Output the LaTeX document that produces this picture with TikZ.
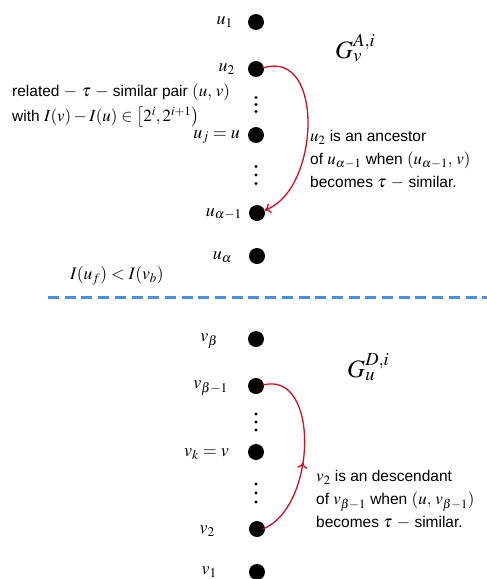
\documentclass[tikz,border=0pt]{standalone}
\usepackage{mathptmx}
\usepackage[no-math]{fontspec}
\setmainfont{Liberation Sans}
\usetikzlibrary{arrows.meta,decorations.markings}
\definecolor{arcred}{RGB}{208,16,32}
\definecolor{dashblue}{RGB}{74,144,226}
\newcommand\mth[1]{{\fontsize{17}{23}\selectfont$#1$}}
\begin{document}
\begin{tikzpicture}[x=1pt,y=-1pt,
  vert/.style={circle,fill=black,minimum size=16pt,inner sep=0pt},
  dotty/.style={circle,fill=black,minimum size=3.2pt,inner sep=0pt},
  lab/.style={anchor=east,inner sep=0pt,font=\fontsize{18}{20}\selectfont},
  gname/.style={anchor=west,inner sep=0pt,font=\fontsize{25}{30}\selectfont},
  note/.style={anchor=west,align=left,inner sep=0pt,font=\fontsize{15.5}{23}\selectfont},
  arc/.style={draw=arcred,line width=1.3pt}]
\useasboundingbox (0,0) rectangle (487,579);
% top group
\node[vert] (u1) at (256,22) {};
\node[vert] (u2) at (256,69) {};
\node[vert] (uj) at (256,135) {};
\node[vert] (ua1) at (257,213) {};
\node[vert] (ua) at (257,256) {};
\node[lab] (lu1) at (233,22) {$u_1$};
\node[lab] (lu2) at (235,69) {$u_2$};
\node[lab] (luj) at (240,137) {$u_j = u$};
\node[lab] (lua1) at (242,214) {$u_{\alpha-1}$};
\node[lab] (lua) at (232,257) {$u_\alpha$};
\foreach \y [count=\i] in {97.5,104.5,111.5} \node[dotty] (da\i) at (256,\y) {};
\foreach \y [count=\i] in {166.5,175,183.5} \node[dotty] (db\i) at (256,\y) {};
\node[gname] (GA) at (335,48) {$G_v^{A,i}$};
\node[note] (lnote1) at (12,92) {related \mth{-\ \tau\ -} similar pair \mth{(u,\, v)}};
\node[note] (lnote2) at (12,117) {with \mth{I(v)-I(u)\in\bigl[2^i,2^{i+1}\bigr)}};
\node[note] (rnote) at (310,160) {\mth{u_2} is an ancestor\\of \mth{u_{\alpha-1}} when \mth{(u_{\alpha-1},\, v)}\\becomes \mth{\tau\ -} similar.};
\draw[arc,-{To[length=6pt,width=10pt]}] (263,68) .. controls (325,48) and (320,190) .. (ua1);
\node[note,font=\fontsize{17.5}{20}\selectfont] (ineq) at (70,276) {$I(u_f) < I(v_b)$};
% dashed separator
\coordinate (sepL) at (48,297);
\coordinate (sepR) at (487,297);
\draw[dashblue,line width=3pt,dash pattern=on 11pt off 5.7pt] (sepL) -- (sepR);
% bottom group
\node[vert] (vb) at (256,339) {};
\node[vert] (vb1) at (256,386) {};
\node[vert] (vk) at (256,452) {};
\node[vert] (v2) at (257,529) {};
\node[vert] (v1) at (257,572) {};
\node[lab] (lvb) at (218,341) {$v_\beta$};
\node[lab] (lvb1) at (228,388) {$v_{\beta-1}$};
\node[lab] (lvk) at (229,454) {$v_k = v$};
\node[lab] (lv2) at (215,531) {$v_2$};
\node[lab] (lv1) at (217,572) {$v_1$};
\foreach \y [count=\i] in {414,422,430} \node[dotty] (dc\i) at (256,\y) {};
\foreach \y [count=\i] in {484,493,502} \node[dotty] (dd\i) at (256,\y) {};
\node[gname] (GD) at (347,367) {$G_u^{D,i}$};
\node[note] (bnote) at (316,500) {\mth{v_2} is an descendant\\of \mth{v_{\beta-1}} when \mth{(u,\, v_{\beta-1})}\\becomes \mth{\tau\ -} similar.};
\draw[arc,postaction={decorate},decoration={markings,mark=at position 0.44 with {\arrow{To[length=6pt,width=10pt]}}}] (263,529) .. controls (317,507) and (320,370) .. (263,385);
\end{tikzpicture}
\end{document}
